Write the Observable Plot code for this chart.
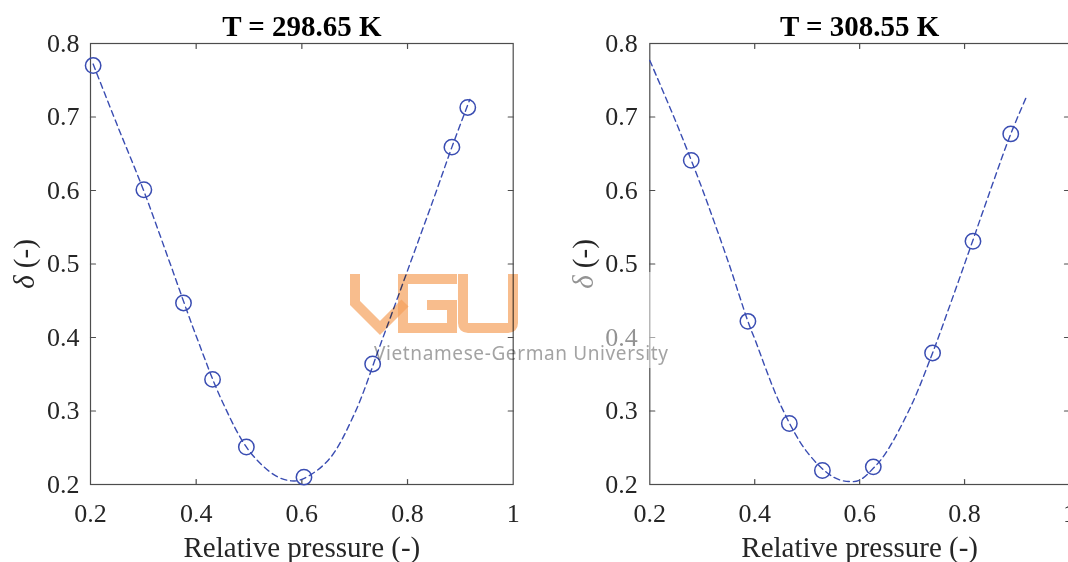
<!DOCTYPE html>
<html>
<head>
<meta charset="utf-8">
<script src="https://cdn.jsdelivr.net/npm/d3@7"></script>
<script src="https://cdn.jsdelivr.net/npm/@observablehq/plot@0.6"></script>
<style>
  html, body { margin: 0; padding: 0; background: #fff; overflow: hidden; }
  #fig { position: relative; width: 1068px; height: 562px; overflow: hidden; }
  #fig > svg { position: absolute; top: 0; }
  #mark { position: absolute; left: 0; top: 0; pointer-events: none; }
</style>
</head>
<body>
<div id="fig"></div>
<script>
// Panel titles
const titles = ["T = 298.65 K", "T = 308.55 K"];

// Measured points, T = 298.65 K
const p1X = [0.205, 0.301, 0.376, 0.431, 0.495, 0.604, 0.734, 0.884, 0.914];
const p1Y = [0.770, 0.601, 0.447, 0.343, 0.251, 0.210, 0.364, 0.659, 0.713];
// Fitted curve, T = 298.65 K
const f1X = [0.205, 0.25, 0.30, 0.35, 0.40, 0.45, 0.50, 0.55, 0.58, 0.60, 0.65, 0.70, 0.75, 0.80, 0.85, 0.884, 0.918];
const f1Y = [0.772, 0.690, 0.601, 0.502, 0.402, 0.312, 0.246, 0.212, 0.205, 0.207, 0.233, 0.297, 0.393, 0.491, 0.590, 0.659, 0.724];

// Measured points, T = 308.55 K
const p2X = [0.279, 0.387, 0.466, 0.529, 0.626, 0.739, 0.816, 0.888];
const p2Y = [0.641, 0.422, 0.283, 0.219, 0.224, 0.379, 0.531, 0.677];
// Fitted curve, T = 308.55 K
const f2X = [0.20, 0.25, 0.279, 0.30, 0.35, 0.387, 0.40, 0.45, 0.50, 0.55, 0.58, 0.60, 0.626, 0.65, 0.70, 0.739, 0.75, 0.80, 0.85, 0.888, 0.917];
const f2Y = [0.777, 0.693, 0.641, 0.602, 0.502, 0.422, 0.398, 0.307, 0.244, 0.210, 0.204, 0.206, 0.222, 0.243, 0.310, 0.379, 0.400, 0.500, 0.602, 0.677, 0.726];

// Axis ticks
const xTicks = [0.2, 0.4, 0.6, 0.8, 1];
const yTicks = [0.2, 0.3, 0.4, 0.5, 0.6, 0.7, 0.8];
const xLabel = "Relative pressure (-)";
const yLabel = "δ (-)";

const blue = "#3a4db2";
const axisColor = "#4d4d4d";
const zip = (xs, ys) => xs.map((x, i) => ({x, y: ys[i]}));

// plain straight tick stroke for the vector mark
const tickShape = {draw(context, l) { context.moveTo(0, 0); context.lineTo(0, -l); }};

function panel(title, pts, fit, layout) {
  const innerX = xTicks.slice(1, -1);
  const innerY = yTicks.slice(1, -1);
  const tick = {length: 5, anchor: "start", shape: tickShape, stroke: axisColor, strokeWidth: 1.2};
  return Plot.plot({
    width: layout.width,
    height: 562,
    marginLeft: layout.left,
    marginRight: layout.right,
    marginTop: 43,
    marginBottom: 78,
    x: {domain: [0.2, 1]},
    y: {domain: [0.2, 0.8]},
    style: {fontFamily: "'Liberation Serif', 'Times New Roman', serif", fontSize: "26px", color: "#262626", background: "transparent", overflow: "visible"},
    marks: [
      Plot.frame({stroke: axisColor, strokeWidth: 1.2}),
      Plot.axisX(xTicks, {tickSize: 0, tickPadding: 19, tickFormat: d => String(d), label: null}),
      Plot.axisY(yTicks, {tickSize: 0, tickPadding: layout.ypad, tickFormat: d => String(d), label: null}),
      // inward tick marks on all four sides
      Plot.vector(innerX, {x: d => d, frameAnchor: "bottom", rotate: 0, ...tick}),
      Plot.vector(innerX, {x: d => d, frameAnchor: "top", rotate: 180, ...tick}),
      Plot.vector(innerY, {y: d => d, frameAnchor: "left", rotate: 90, ...tick}),
      Plot.vector(innerY, {y: d => d, frameAnchor: "right", rotate: -90, ...tick}),
      Plot.line(fit, {x: "x", y: "y", stroke: blue, strokeWidth: 1.4, strokeDasharray: "6,4", curve: "catmull-rom"}),
      Plot.dot(pts, {x: "x", y: "y", r: 7.7, stroke: blue, strokeWidth: 1.5, fill: "none"}),
      Plot.text([title], {frameAnchor: "top", lineAnchor: "bottom", dy: -8, fontWeight: "bold", fontSize: 29, fill: "#000"}),
      Plot.text([xLabel], {frameAnchor: "bottom", lineAnchor: "bottom", dy: 72, fontSize: 29, fill: "#262626"}),
      Plot.text([yLabel], {frameAnchor: "left", textAnchor: "middle", rotate: -90, dx: -66, fontSize: 29, fill: "#262626"})
    ]
  });
}

const fig = document.getElementById("fig");
const left = panel(titles[0], zip(p1X, p1Y), zip(f1X, f1Y), {width: 534, left: 90, right: 21.3, ypad: 11});
left.style.left = "0px";
const right = panel(titles[1], zip(p2X, p2Y), zip(f2X, f2Y), {width: 546, left: 115.3, right: 11, ypad: 12});
right.style.left = "534px";
fig.appendChild(left);
fig.appendChild(right);

// italic delta in the y-axis labels
d3.select(fig).selectAll("text").filter(function () { return this.textContent === yLabel; }).each(function () {
  const t = d3.select(this);
  t.text(null);
  t.append("tspan").attr("font-style", "italic").text("δ");
  t.append("tspan").text(" (-)");
});

// university watermark
const wm = d3.select(fig).append("svg").attr("id", "mark").attr("width", 1068).attr("height", 562);
wm.append("rect").attr("x", 540).attr("y", 272).attr("width", 125).attr("height", 96).attr("fill", "#fff").attr("opacity", 0.5);
const logo = wm.append("g").attr("fill", "none").attr("stroke", "#f5a15c").attr("stroke-width", 10)
  .attr("stroke-opacity", 0.7).style("mix-blend-mode", "multiply");
logo.append("path").attr("d", "M355,274 V303 L380,328 L405,303");
logo.append("path").attr("d", "M457,279 H403 V328 H452 V305 H427");
logo.append("path").attr("d", "M463,274 V323 Q463,328 468,328 H508 Q513,328 513,323 V274");
wm.append("text").attr("x", 374).attr("y", 360).attr("textLength", 294).attr("lengthAdjust", "spacing")
  .attr("font-family", "'Noto Sans', 'DejaVu Sans', sans-serif").attr("font-size", 19)
  .attr("fill", "#8c8c8c").attr("fill-opacity", 0.8).style("mix-blend-mode", "multiply")
  .text("Vietnamese-German University");
</script>
</body>
</html>
